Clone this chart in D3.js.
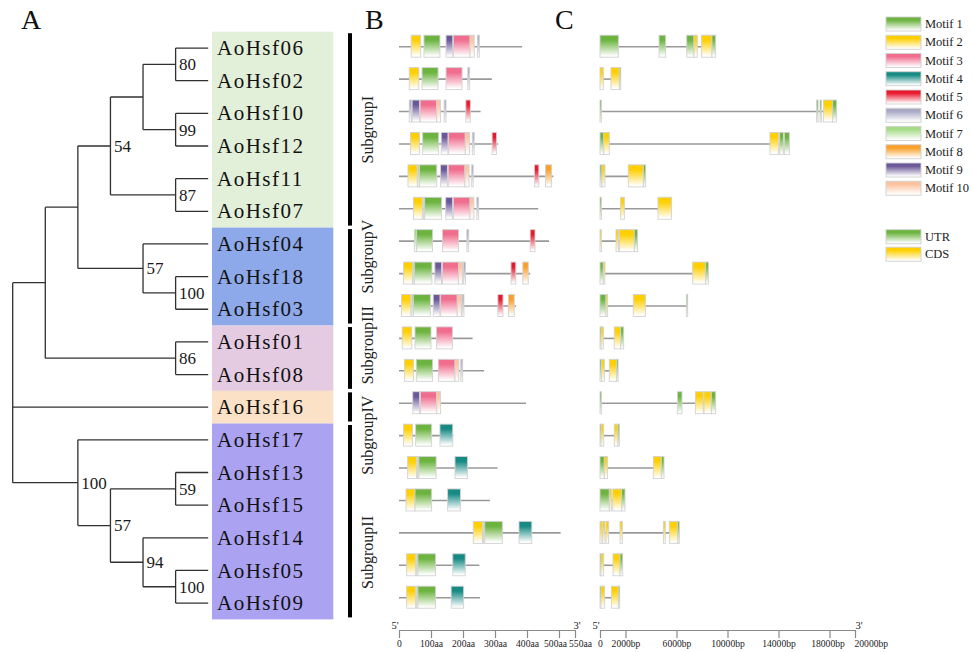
<!DOCTYPE html>
<html><head><meta charset="utf-8">
<script src="https://cdn.jsdelivr.net/npm/d3@7"></script>
<style>body{margin:0;background:#fff}svg{display:block;font-family:"Liberation Serif","Times New Roman",serif}</style>
</head><body><svg id="c" width="972" height="652"></svg>
<script>
// ---------------- DATA ----------------
const genes = ["AoHsf06","AoHsf02","AoHsf10","AoHsf12","AoHsf11","AoHsf07","AoHsf04","AoHsf18","AoHsf03","AoHsf01","AoHsf08","AoHsf16","AoHsf17","AoHsf13","AoHsf15","AoHsf14","AoHsf05","AoHsf09"];
const newick = "((((((AoHsf06,AoHsf02)80,(AoHsf10,AoHsf12)99),(AoHsf11,AoHsf07)87)54,(AoHsf04,(AoHsf18,AoHsf03)100)57),(AoHsf01,AoHsf08)86),AoHsf16,(AoHsf17,((AoHsf13,AoHsf15)59,(AoHsf14,(AoHsf05,AoHsf09)100)94)57)100);";
const groupNames = ["SubgroupI","SubgroupV","SubgroupIII","SubgroupIV","SubgroupII"];
const groupSizes = [6,3,2,1,6];
const motifNames = ["Motif 1","Motif 2","Motif 3","Motif 4","Motif 5","Motif 6","Motif 7","Motif 8","Motif 9","Motif 10"];
const structNames = ["UTR","CDS"];
const proteinLengths = [385,290,255,310,482,435,469,410,366,230,266,397,170,308,284,505,251,253];
// [motif number, start aa, end aa]
const motifs = [
 [[2,38,68],[1,78,128],[9,147,168],[3,170,222],[10,222,235],[6,245,251]],
 [[2,32,62],[1,72,122],[3,147,197],[6,215,221]],
 [[6,32,39],[9,41,64],[3,66,118],[10,118,130],[6,141,147],[5,209,223]],
 [[2,36,64],[1,74,124],[9,132,153],[3,155,207],[10,207,220],[6,229,235],[5,291,305]],
 [[2,28,57],[7,59,64],[1,64,118],[9,130,151],[3,154,206],[10,206,219],[6,227,232],[5,423,437],[8,458,477]],
 [[2,45,73],[7,76,80],[1,80,133],[9,146,167],[3,170,222],[10,222,234],[6,243,249]],
 [[7,48,55],[1,55,105],[3,136,186],[6,212,218],[5,410,425]],
 [[2,14,42],[7,44,48],[1,48,103],[9,112,133],[3,136,186],[10,186,199],[6,201,208],[5,350,365],[8,387,404]],
 [[2,8,37],[7,40,45],[1,45,98],[9,107,128],[3,130,182],[10,182,195],[6,197,203],[5,309,325],[8,342,360]],
 [[2,10,40],[1,50,100],[3,117,167]],
 [[2,17,45],[1,54,105],[3,123,175],[10,175,187],[6,193,199]],
 [[9,43,64],[3,67,118],[10,118,130]],
 [[2,14,42],[1,52,102],[4,128,168]],
 [[2,27,55],[7,58,62],[1,62,116],[4,175,214]],
 [[2,22,50],[1,50,102],[4,152,192]],
 [[2,232,261],[7,264,268],[1,268,323],[4,375,415]],
 [[2,24,52],[7,55,59],[1,59,114],[4,168,207]],
 [[2,24,52],[7,55,59],[1,59,114],[4,163,202]]
];
// [type, start bp, end bp]  U = UTR, C = CDS
const exons = [
 [["U",0,1440],["U",4630,5150],["U",6800,7370],["C",7370,7630],["C",7950,8780],["U",8780,9070]],
 [["C",0,260],["C",860,1520],["U",1520,1620]],
 [["U",0,80],["U",16990,17100],["U",17255,17360],["C",17520,18250],["U",18250,18560]],
 [["U",0,300],["C",300,730],["C",13330,14010],["U",14090,14380],["U",14460,14850]],
 [["U",0,160],["C",160,390],["C",2220,3400],["U",3400,3580]],
 [["U",0,80],["C",1620,1910],["C",4550,5600]],
 [["C",0,80],["C",1255,1440],["C",1520,2690],["U",2690,2950]],
 [["U",0,260],["C",260,390],["C",7270,8290],["U",8290,8500]],
 [["U",0,470],["C",470,600],["C",2610,3560],["U",6770,6880]],
 [["U",0,80],["C",80,260],["C",1120,1620],["U",1620,1860]],
 [["U",0,130],["C",130,340],["C",730,1310],["U",1310,1390]],
 [["U",0,80],["U",6070,6430],["C",7480,8100],["C",8160,8730],["U",8730,9070]],
 [["U",0,80],["C",80,290],["C",1120,1410],["U",1410,1490]],
 [["U",0,340],["C",340,580],["C",4180,4810],["U",4810,5020]],
 [["U",0,730],["C",730,890],["C",1000,1700],["U",1700,1960]],
 [["C",0,160],["C",210,390],["C",470,680],["C",1570,1750],["C",4970,5120],["C",5440,6090],["U",6090,6220]],
 [["U",0,80],["C",80,290],["C",1020,1570],["U",1570,1780]],
 [["U",0,80],["C",80,365],["C",890,1440],["U",1440,1540]]
];
const aaTicks = [0,100,200,300,400,500,550];
const bpTicks = [0,2000,6000,10000,14000,18000,20000];

// ---------------- STYLE ----------------
const motifColors = ["#6cb43f","#ffcf00","#f06d8e","#178a84","#e8182e","#a9a9c6","#a6dc88","#f9a02a","#6a5898","#fdc3a0"];
const structColors = {U:"#6cb43f", C:"#ffcf00"};
const groupColors = ["#e2efd9","#8ea9ea","#e5cbe2","#fbe2c7","#aba3f2"];
const labelOffset = [0,-20,-13,28,31];

const svg = d3.select("#c");
const defs = svg.append("defs");
function grad(id,color){
  const g = defs.append("linearGradient").attr("id",id).attr("x1",0).attr("y1",0).attr("x2",0).attr("y2",1);
  g.append("stop").attr("offset","0").attr("stop-color",color);
  g.append("stop").attr("offset","0.22").attr("stop-color",color);
  g.append("stop").attr("offset","0.95").attr("stop-color","#ffffff");
}
motifColors.forEach((c,i)=>grad("m"+(i+1),c));
grad("gU",structColors.U); grad("gC",structColors.C);

// ---------------- TREE ----------------
function parseNewick(s){
  let i=0;
  function node(){
    const n={};
    if(s[i]==='('){
      i++; n.children=[];
      n.children.push(node());
      while(s[i]===','){ i++; n.children.push(node()); }
      i++;
    }
    let name='';
    while(i<s.length && !',();'.includes(s[i])) name+=s[i++];
    n.name=name;
    return n;
  }
  return node();
}
const rowH = 32.65, treeTop = 31.7, treeLeft = 12.7, treeW = 195.5;
const root = d3.hierarchy(parseNewick(newick));
d3.cluster().size([genes.length*rowH, treeW]).separation(()=>1)(root);
const X = d=>treeLeft + d.y, Y = d=>treeTop + d.x;

// group backgrounds
let acc=0;
const groups = groupNames.map((n,i)=>{const g={name:n,start:acc,n:groupSizes[i],i}; acc+=groupSizes[i]; return g;});
svg.append("g").selectAll("rect").data(groups).join("rect")
  .attr("x",212).attr("width",121.3)
  .attr("y",d=>treeTop+d.start*rowH).attr("height",d=>d.n*rowH)
  .attr("fill",d=>groupColors[d.i]);

const tg = svg.append("g").attr("stroke","#303030").attr("stroke-width",1.3).attr("fill","none");
root.descendants().forEach(n=>{
  if(!n.children) return;
  const ys = n.children.map(Y);
  tg.append("line").attr("x1",X(n)).attr("x2",X(n)).attr("y1",d3.min(ys)).attr("y2",d3.max(ys));
  n.children.forEach(c=>{
    tg.append("line").attr("x1",X(n)).attr("x2",X(c)).attr("y1",Y(c)).attr("y2",Y(c));
  });
});
svg.append("g").selectAll("text").data(root.descendants().filter(n=>n.children && n.depth>0 && n.data.name))
  .join("text").attr("x",d=>X(d)+3.5).attr("y",d=>Y(d)).attr("dy","0.35em")
  .attr("font-size",17).attr("fill","#1a1a1a").text(d=>d.data.name);

// leaf labels
svg.append("g").selectAll("text").data(root.leaves()).join("text")
  .attr("x",217).attr("y",d=>Y(d)).attr("dy","0.34em")
  .attr("font-size",21).attr("letter-spacing",1.5).attr("fill","#111").text(d=>d.data.name);

// subgroup bars
const sg = svg.append("g");
sg.selectAll("line").data(groups).join("line")
  .attr("x1",350).attr("x2",350)
  .attr("y1",d=>treeTop+d.start*rowH+1.5).attr("y2",d=>treeTop+(d.start+d.n)*rowH-2)
  .attr("stroke","#000").attr("stroke-width",4);
sg.selectAll("text").data(groups).join("text")
  .attr("transform",d=>`translate(373,${treeTop+(d.start+d.n/2)*rowH+labelOffset[d.i]}) rotate(-90)`)
  .attr("text-anchor","middle").attr("font-size",16).attr("fill","#222").text(d=>d.name);

// ---------------- PANEL B ----------------
const yRow = d3.scalePoint().domain(genes).range([46.7,597.7]);
const xB = d3.scaleLinear().domain([0,550]).range([399,575]);
const boxH = 22;
const pb = svg.append("g");
genes.forEach((g,i)=>{
  const y = yRow(g);
  pb.append("line").attr("x1",xB(0)).attr("x2",xB(proteinLengths[i])).attr("y1",y).attr("y2",y)
    .attr("stroke","#999").attr("stroke-width",1.6);
  pb.selectAll(null).data(motifs[i]).join("rect")
    .attr("x",d=>xB(d[1])).attr("width",d=>Math.max(1.5,xB(d[2])-xB(d[1])))
    .attr("y",y-boxH/2-0.5).attr("height",boxH)
    .attr("fill",d=>`url(#m${d[0]})`).attr("stroke","#d2d2d2").attr("stroke-width",0.9);
});

// ---------------- PANEL C ----------------
const xC = d3.scaleLinear().domain([0,20000]).range([600,855]);
const pc = svg.append("g");
genes.forEach((g,i)=>{
  const y = yRow(g);
  const end = d3.max(exons[i],d=>d[2]);
  pc.append("line").attr("x1",xC(0)).attr("x2",xC(end)).attr("y1",y).attr("y2",y)
    .attr("stroke","#999").attr("stroke-width",1.6);
  pc.selectAll(null).data(exons[i]).join("rect")
    .attr("x",d=>xC(d[1])).attr("width",d=>Math.max(1.4,xC(d[2])-xC(d[1])))
    .attr("y",y-boxH/2-0.5).attr("height",boxH)
    .attr("fill",d=>`url(#g${d[0]})`).attr("stroke","#d2d2d2").attr("stroke-width",0.9);
});

// ---------------- AXES ----------------
function styleAxis(g){
  g.selectAll("path,line").attr("stroke","#8a8a8a").attr("stroke-width",1.2);
  g.selectAll("text").attr("font-family","Liberation Serif, serif").attr("font-size",9.6).attr("fill","#222");
}
const axY = 630;
const axB = svg.append("g").attr("transform",`translate(0,${axY})`)
  .call(d3.axisBottom(xB).tickValues(aaTicks).tickSizeInner(8).tickSizeOuter(0).tickPadding(2)
    .tickFormat(d=>d===0?"0":d+"aa")).call(styleAxis);
axB.selectAll(".tick text").attr("dx",d=>d===500?-4:d===550?5:0);
const axC = svg.append("g").attr("transform",`translate(0,${axY})`)
  .call(d3.axisBottom(xC).tickValues(bpTicks).tickSizeInner(8).tickSizeOuter(0).tickPadding(2)
    .tickFormat(d=>d===0?"0":d+"bp")).call(styleAxis);
axC.selectAll(".tick text").filter(d=>d===20000).attr("text-anchor","start").attr("dx",-1);
axC.selectAll(".tick text").filter(d=>d===18000).attr("dx",-2);
const ends = [[395,"5'"],[577,"3'"],[596,"5'"],[859,"3'"]];
svg.append("g").selectAll("text").data(ends).join("text")
  .attr("x",d=>d[0]).attr("y",axY-1).attr("text-anchor","middle").attr("font-size",10.5).attr("fill","#222").text(d=>d[1]);

// ---------------- LEGEND ----------------
const lg = svg.append("g");
const legItems = motifNames.map((n,i)=>({name:n,fill:`url(#m${i+1})`,y:24+i*18.25}))
  .concat(structNames.map((n,i)=>({name:n,fill:`url(#g${n[0]})`,y:236.7+i*17.5})));
lg.selectAll("rect").data(legItems).join("rect")
  .attr("x",886).attr("y",d=>d.y-7).attr("width",35).attr("height",14)
  .attr("fill",d=>d.fill).attr("stroke","#d0d0d0").attr("stroke-width",0.9);
lg.selectAll("text").data(legItems).join("text")
  .attr("x",925).attr("y",d=>d.y).attr("dy","0.33em").attr("font-size",12.5).attr("fill","#222").text(d=>d.name);

// panel letters
svg.append("g").selectAll("text").data([["A",21],["B",365],["C",555]]).join("text")
  .attr("x",d=>d[1]).attr("y",29).attr("font-size",28).attr("fill","#111").text(d=>d[0]);
</script></body></html>
